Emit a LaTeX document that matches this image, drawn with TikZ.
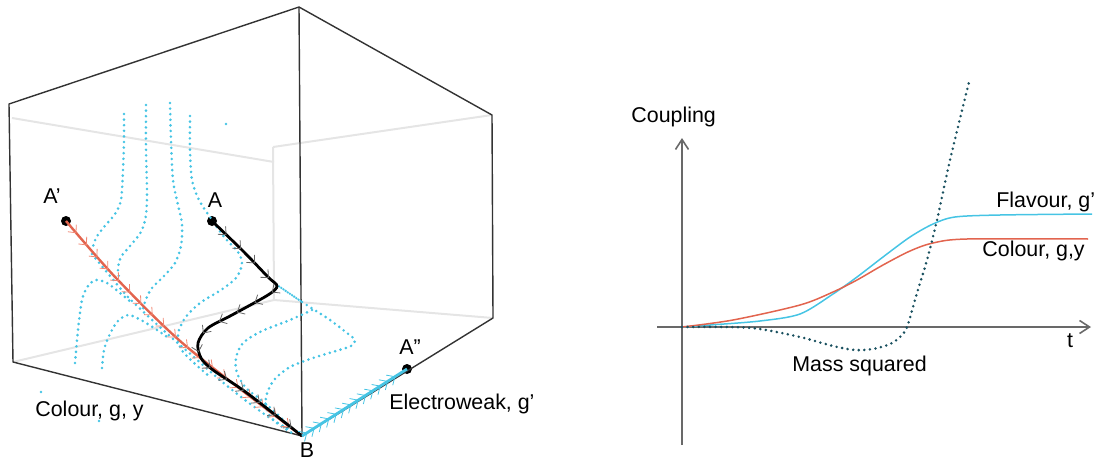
\documentclass[tikz,border=0pt]{standalone}
\usepackage{fontspec}
\setmainfont{Liberation Sans}
\usetikzlibrary{arrows.meta,decorations.markings}
\definecolor{cyanl}{RGB}{70,196,228}
\definecolor{redl}{RGB}{226,100,78}
\definecolor{redbarb}{RGB}{240,135,115}
\definecolor{massc}{RGB}{25,80,95}
\definecolor{axisc}{RGB}{105,105,105}
\begin{document}
\begin{tikzpicture}[x=0.5pt,y=-0.5pt,
  edge/.style={draw=black!80, line width=0.7pt, line join=round},
  hidden/.style={draw=black!10, line width=1pt},
  flow/.style={draw=cyanl, line width=1.45pt, line cap=round, dash pattern=on 0pt off 2.8pt},
  dense/.style={draw=cyanl, line width=1.3pt, line cap=round, dash pattern=on 0pt off 1.3pt},
  pt/.style={circle, fill=black, inner sep=0pt, minimum size=5pt},
  dotc/.style={circle, fill=cyanl, inner sep=0pt, minimum size=1.4pt},
  lab/.style={font=\fontsize{10.7}{12}\selectfont, inner sep=0pt},
  redbarbs/.style={postaction={decorate}, decoration={markings,
     mark=between positions 0.05 and 0.97 step 0.05 with {\arrow{Straight Barb[length=3pt,width=5.5pt,line width=0.4pt,color=redbarb]}}}},
  blackbarbs/.style={postaction={decorate}, decoration={markings,
     mark=between positions 0.06 and 0.97 step 0.06 with {\arrow{Straight Barb[length=3pt,width=5.5pt,line width=0.4pt,color=black!60]}}}},
  cyanbarbs/.style={postaction={decorate}, decoration={markings,
     mark=between positions 0.05 and 0.95 step 0.07 with {\arrow{Straight Barb[length=3.2pt,width=6pt,line width=0.4pt,color=cyanl]}}}},
  axis/.style={draw=axisc, line width=0.8pt, -{Straight Barb[length=5pt,width=6.5pt,line width=0.8pt]}},
  curve/.style={line width=0.75pt}
]
\useasboundingbox (0,0) rectangle (1096,460);

% ---------- cube ----------
\coordinate (T) at (299,7);
\coordinate (LT) at (9,104);
\coordinate (RT) at (492,115);
\coordinate (LB) at (13,362);
\coordinate (BR) at (493,318);
\coordinate (BV) at (274,300);
\coordinate (BVt) at (273,147);
\coordinate (HL1) at (12,118);
\coordinate (HL2) at (274,162);
\coordinate (B) at (302,436);

\draw[hidden] (HL1) -- (HL2);
\draw[hidden] (BVt) -- (RT);
\draw[hidden] (BVt) -- (BV);
\draw[hidden] (LB) -- (BV) -- (BR);

\node[pt] (Ap) at (66,221) {};
\node[pt] (A) at (212,221) {};
\node[pt] (App) at (407,369) {};

\draw[edge] (LB) -- (LT) -- (T) -- (RT) -- (BR) -- (B) -- cycle;
\draw[edge] (T) -- (B);

% ---------- dotted flow lines ----------
\draw[flow] plot[smooth] coordinates {(124,114) (124,140) (123,170) (121,200) (115,214) (104,227) (96,238) (92,250)};
\draw[flow] plot[smooth] coordinates {(146,105) (146,150) (147,190) (146,215) (141,232) (130,246) (121,257) (118,268) (119,278)};
\draw[flow] plot[smooth] coordinates {(170,103) (171,140) (173,180) (178,205) (182,224) (181,246) (175,263) (164,276) (152,288) (146,299) (143,309)};
\draw[flow] plot[smooth] coordinates {(190,116) (190,150) (192,180) (199,200) (212,220) (225,238) (238,252) (242,264) (236,278) (221,290) (200,303) (185,318) (178,334) (181,349) (193,362) (210,377)};
\draw[flow] plot[smooth] coordinates {(75,363) (78,330) (82,300) (88,286) (96,280) (107,283) (120,293) (132,303)};
\draw[flow] plot[smooth] coordinates {(102,368) (104,350) (109,336) (117,322) (128,315) (141,320) (157,330) (170,339)};
\draw[flow] plot[smooth] coordinates {(92,254) (110,276) (128,297) (150,318) (172,338) (195,358) (220,380) (245,400) (270,418) (292,431)};
\draw[dense] (277,285) -- (302,302);
\draw[flow] plot[smooth] coordinates {(302,302) (313,309) (330,320) (347,333) (355,340) (351,346) (336,351) (313,358) (290,367) (274,380) (266,397) (268,413) (278,424) (292,433)};
\draw[flow] plot[smooth] coordinates {(312,310) (290,320) (262,331) (243,343) (236,358) (237,373) (246,388) (260,399) (276,413) (291,428)};
\node[dotc] (s1) at (226,124) {};
\node[dotc] (s2) at (41,392) {};
\node[dotc] (s3) at (99,421) {};

% ---------- trajectories ----------
\draw[draw=redl, line width=1.2pt, redbarbs] plot[smooth] coordinates {(Ap.center) (117,279) (187,347) (B)};
\draw[draw=black, line width=1.4pt, blackbarbs, tension=0.5] plot[smooth] coordinates {(A.center) (243,251) (268,277) (277,286) (268,295) (232,315) (208,328) (198,343) (201,358) (213,370) (247,393) (B)};
\draw[draw=cyanl, line width=1.4pt, cyanbarbs] (B) -- (App.center);

\node[lab] (lAp) at (52,196) {A’};
\node[lab] (lA) at (215,200) {A};
\node[lab] (lApp) at (410,347) {A”};
\node[lab] (lB) at (307,450) {B};
\node[lab, anchor=west] (lcol) at (35,411) {Colour, g, y};
\node[lab, anchor=west] (lew) at (389,404) {Electroweak, g’};

% ---------- chart ----------
\coordinate (xs) at (657,327);
\coordinate (xe) at (1091,327);
\coordinate (ys) at (682,445);
\coordinate (ye) at (682,138);
\draw[axis] (xs) -- (xe);
\draw[axis] (ys) -- (ye);

\draw[curve, draw=cyanl] plot[smooth] coordinates {(682,327) (710,325) (760,321) (800,314) (833,294) (857,277) (883,257) (910,237) (933,224) (955,217) (1000,215) (1092,214)};
\draw[curve, draw=redl] plot[smooth] coordinates {(682,327) (733,320) (800,305) (833,292) (857,280) (883,265) (910,251) (933,243) (967,239) (1088,239)};
\draw[draw=massc, line width=1.4pt, line cap=round, dash pattern=on 0pt off 2.8pt] plot[smooth] coordinates {(682,327) (730,327) (760,329) (800,337) (833,346) (855,350) (873,349) (890,344) (900,337) (907,327) (917,293) (927,260) (937,220) (950,160) (969,82)};

\node[lab, anchor=west] (lcoup) at (631,117) {Coupling};
\node[lab] (lt) at (1070,341) {t};
\node[lab, anchor=west] (lmass) at (792,366) {Mass squared};
\node[lab, anchor=west] (lflav) at (996,202) {Flavour, g’};
\node[lab, anchor=west] (lcolg) at (982,251) {Colour, g,y};
\end{tikzpicture}
\end{document}
